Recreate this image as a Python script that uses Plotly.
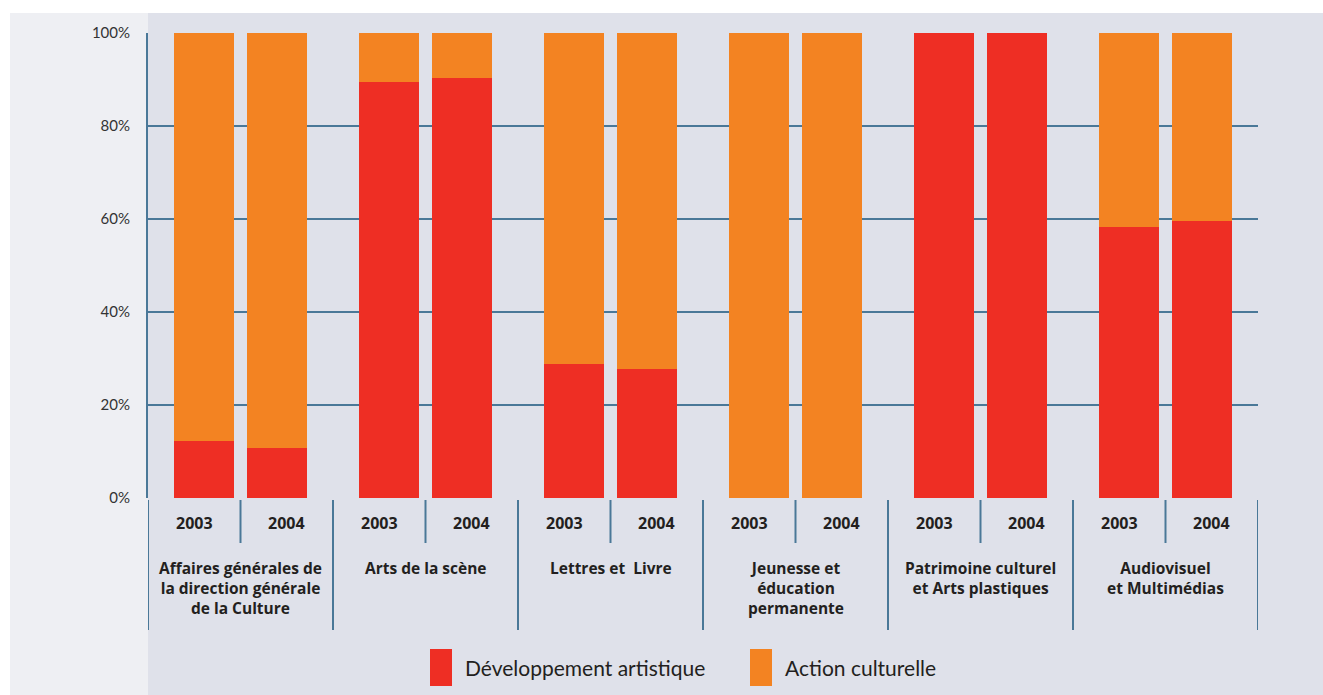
import plotly.graph_objects as go

# Data
categories = [
    "Affaires générales de<br>la direction générale<br>de la Culture",
    "Arts de la scène",
    "Lettres et  Livre",
    "Jeunesse et<br>éducation<br>permanente",
    "Patrimoine culturel<br>et Arts plastiques",
    "Audiovisuel<br>et Multimédias",
]
years = ["2003", "2004"]
series_names = ["Développement artistique", "Action culturelle"]
# Share of "Développement artistique" (%), per category: [2003, 2004]
dev_artistique = [
    [12.3, 10.8],
    [89.5, 90.3],
    [28.8, 27.7],
    [0.0, 0.0],
    [100.0, 100.0],
    [58.3, 59.6],
]
action_culturelle = [[round(100 - v, 1) for v in pair] for pair in dev_artistique]
y_ticks = [0, 20, 40, 60, 80, 100]
y_ticklabels = ["0%", "20%", "40%", "60%", "80%", "100%"]

colors = ["#ee2e24", "#f38322"]
grid_color = "#4a7898"
text_color = "#231f20"
font_family = "Lato, 'Open Sans', sans-serif"
bold_family = "'Open Sans', Lato, sans-serif"

W, H = 1323, 695
L, R, T, B = 148, 65, 33, 197
pw, ph = W - L - R, H - T - B

def px_x(px):
    return (px - L) / pw

def px_y(py):
    return (H - B - py) / ph

bar_offset = 0.197
bar_width = 0.324

xs, dev_vals, act_vals = [], [], []
for g in range(len(categories)):
    for k in range(len(years)):
        xs.append(g + (k - 0.5) * 2 * bar_offset)
        dev_vals.append(dev_artistique[g][k])
        act_vals.append(action_culturelle[g][k])

fig = go.Figure()
for name, vals, col in zip(series_names, [dev_vals, act_vals], colors):
    fig.add_trace(go.Bar(
        x=xs, y=vals, width=bar_width, name=name,
        marker=dict(color=col, line=dict(width=0)),
        showlegend=False,
    ))

shapes = []
# page background panels
shapes.append(dict(type="rect", xref="paper", yref="paper",
                   x0=px_x(10), x1=px_x(L), y0=px_y(H), y1=px_y(13),
                   fillcolor="#eeeff3", line=dict(width=0), layer="below"))
shapes.append(dict(type="rect", xref="paper", yref="paper",
                   x0=px_x(L), x1=px_x(W + 5), y0=px_y(H + 5), y1=px_y(13),
                   fillcolor="#dfe1ea", line=dict(width=0), layer="below"))

# separators under the axis
sep_top = px_y(500)
for g in range(len(categories) + 1):
    shapes.append(dict(type="line", xref="x", yref="paper",
                       x0=g - 0.5, x1=g - 0.5, y0=sep_top, y1=px_y(630),
                       line=dict(color=grid_color, width=2)))
for g in range(len(categories)):
    shapes.append(dict(type="line", xref="x", yref="paper",
                       x0=g, x1=g, y0=sep_top, y1=px_y(543),
                       line=dict(color=grid_color, width=2)))

annotations = []
for g, cat in enumerate(categories):
    for k, yr in enumerate(years):
        annotations.append(dict(
            x=g + (k - 0.5) * 0.5, y=px_y(523), xref="x", yref="paper",
            text=f"<b>{yr}</b>", showarrow=False,
            font=dict(size=16, color=text_color, family=bold_family),
            xanchor="center", yanchor="middle"))
    annotations.append(dict(
        x=g, y=px_y(555), xref="x", yref="paper",
        text=f"<b>{cat}</b>", showarrow=False, align="center",
        font=dict(size=15.5, color=text_color, family=bold_family),
        xanchor="center", yanchor="top"))

# legend drawn as swatches + labels
legend_x = [430, 750]
for name, col, lx in zip(series_names, colors, legend_x):
    shapes.append(dict(type="rect", xref="paper", yref="paper",
                       x0=px_x(lx), x1=px_x(lx + 22), y0=px_y(686), y1=px_y(649),
                       fillcolor=col, line=dict(width=0)))
    annotations.append(dict(
        x=px_x(lx + 33), y=px_y(667), xref="paper", yref="paper",
        text=name, showarrow=False,
        font=dict(size=21, color=text_color, family=font_family),
        xanchor="left", yanchor="middle"))

fig.update_layout(
    width=W, height=H,
    margin=dict(l=L, r=R, t=T, b=B),
    paper_bgcolor="white",
    plot_bgcolor="rgba(0,0,0,0)",
    barmode="stack",
    bargap=0,
    shapes=shapes,
    annotations=annotations,
    xaxis=dict(range=[-0.5, len(categories) - 0.5], showgrid=False,
               zeroline=False, showticklabels=False, showline=False,
               fixedrange=True),
    yaxis=dict(range=[0, 100], tickvals=y_ticks, ticktext=y_ticklabels,
               showgrid=True, gridcolor=grid_color, gridwidth=2,
               zeroline=False, showline=True, linecolor=grid_color,
               linewidth=2, ticks="", ticklabelstandoff=13,
               tickfont=dict(size=15, color="#333333", family=font_family),
               fixedrange=True),
    font=dict(family=font_family),
)

fig.write_html("out.html")
